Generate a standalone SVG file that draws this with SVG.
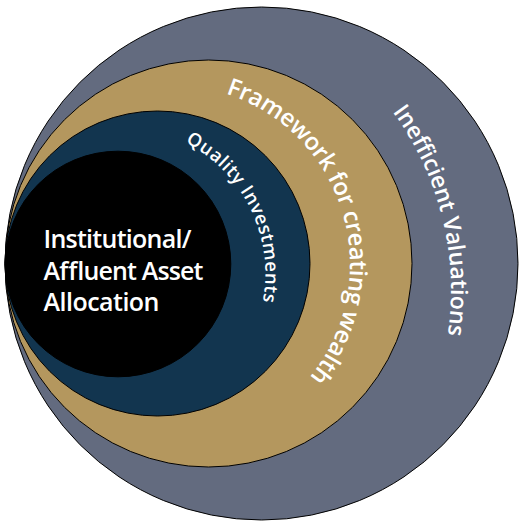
<svg xmlns="http://www.w3.org/2000/svg" xmlns:xlink="http://www.w3.org/1999/xlink" width="519" height="527" viewBox="0 0 519 527">
<style>
.ring{stroke:#000;stroke-width:1}
.lbl{font-family:"Open Sans","Noto Sans","Liberation Sans",sans-serif;font-weight:600;fill:#fff}
</style>
<defs>
<path id="arcQ" d="M185.3,142.2 A148.5,148.5 0 0 1 256.5,324.8"/>
<path id="arcF" d="M225.7,93.6 A179,179 0 0 1 286.1,401.1"/>
<path id="arcI" d="M392.6,111.8 A301,301 0 0 1 432.9,392.9"/>
</defs>
<rect width="519" height="527" fill="#fff"/>
<g id="inefficient-valuations">
<circle class="ring" cx="261.5" cy="263.5" r="256.5" fill="#636b7f"/>
<text class="lbl" font-size="23"><textPath xlink:href="#arcI" href="#arcI" textLength="236" lengthAdjust="spacing">Inefficient Valuations</textPath></text>
</g>
<g id="framework">
<circle class="ring" cx="208.5" cy="263.5" r="203.5" fill="#b4975e"/>
<text class="lbl" font-size="24"><textPath xlink:href="#arcF" href="#arcF" textLength="348" lengthAdjust="spacing">Framework for creating wealth</textPath></text>
</g>
<g id="quality-investments">
<circle class="ring" cx="157.5" cy="263.5" r="152.5" fill="#12354f"/>
<text class="lbl" font-size="18.5"><textPath xlink:href="#arcQ" href="#arcQ" textLength="190" lengthAdjust="spacing">Quality Investments</textPath></text>
</g>
<g id="allocation">
<circle class="ring" cx="118" cy="264" r="112.8" fill="#000"/>
<text class="lbl" font-size="25">
<tspan x="43.5" y="248" textLength="148" lengthAdjust="spacing">Institutional/</tspan>
<tspan x="43.5" y="279.5" textLength="160" lengthAdjust="spacing">Affluent Asset</tspan>
<tspan x="43.5" y="311" textLength="116" lengthAdjust="spacing">Allocation</tspan>
</text>
</g>
</svg>
